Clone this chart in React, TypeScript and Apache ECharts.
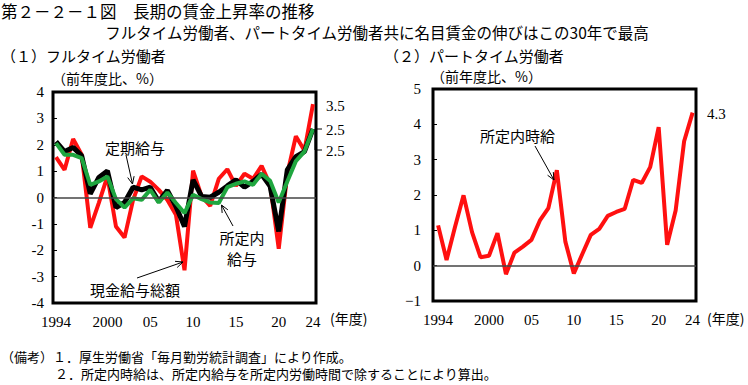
import React, { useEffect, useRef } from "react";
import * as echarts from "echarts";

const years = [1994, 1995, 1996, 1997, 1998, 1999, 2000, 2001, 2002, 2003, 2004, 2005, 2006, 2007, 2008, 2009, 2010, 2011, 2012, 2013, 2014, 2015, 2016, 2017, 2018, 2019, 2020, 2021, 2022, 2023, 2024];

// (1) Full-time workers
const totalWage = [1.53, 1.05, 2.22, 1.62, -1.15, -0.2, 0.8, -1.1, -1.52, -0.09, 0.8, 0.6, 0.29, -0.09, -0.65, -2.76, 1.02, 0.04, -0.32, 0.71, 1.07, 0.44, 0.9, 0.71, 1.2, 0.48, -1.94, 0.9, 2.32, 1.78, 3.54];
const regularWage = [2.12, 1.74, 1.9, 1.58, 0.14, 0.76, 1.01, -0.38, -0.19, 0.39, 0.29, 0.39, -0.15, 0.27, -0.34, -1.1, 0.67, 0.04, 0.01, 0.2, 0.44, 0.67, 0.39, 0.61, 0.88, 0.42, -1.29, 1.05, 1.55, 1.74, 2.6];
const scheduledWage = [2.06, 1.62, 1.62, 1.49, 0.48, 0.61, 0.8, -0.06, -0.38, -0.03, -0.09, 0.29, -0.19, 0.19, -0.21, -0.59, 0.1, -0.06, -0.19, -0.21, 0.39, 0.52, 0.61, 0.48, 0.9, 0.63, -0.19, 0.61, 1.38, 1.74, 2.6];

// (2) Part-time workers
const hourlyWage = [1.14, 0.16, 1.1, 1.99, 0.95, 0.24, 0.28, 0.92, -0.24, 0.37, 0.54, 0.73, 1.28, 1.63, 2.7, 0.68, -0.22, 0.33, 0.87, 1.04, 1.41, 1.52, 1.61, 2.43, 2.34, 2.79, 3.92, 0.59, 1.56, 3.52, 4.33];

const xTickYears = [1994, 2000, 2005, 2010, 2015, 2020, 2024];
const xTickLabels = ["1994", "2000", "05", "10", "15", "20", "24"];

const JP = "'Noto Sans CJK JP', sans-serif";
const SERIF = "'Liberation Serif', 'DejaVu Serif', serif";

function arrow(x1: number, y1: number, x2: number, y2: number) {
  const a = Math.atan2(y2 - y1, x2 - x1);
  const L = 8;
  const w = 0.42;
  const p1 = [x2 - L * Math.cos(a - w), y2 - L * Math.sin(a - w)];
  const p2 = [x2 - L * Math.cos(a + w), y2 - L * Math.sin(a + w)];
  return [
    { type: "line", z: 100, shape: { x1, y1, x2, y2 }, style: { stroke: "#000", lineWidth: 1 } },
    { type: "polyline", z: 100, shape: { points: [p1, [x2, y2], p2] }, style: { stroke: "#000", lineWidth: 1, fill: null } },
  ];
}

function txt(text: string, x: number, y: number, size: number, font: string, align = "left", weight = "normal") {
  return {
    type: "text",
    z: 100,
    x,
    y,
    style: {
      text,
      fontSize: size,
      fontFamily: font,
      fontWeight: weight,
      fill: "#000",
      textAlign: align,
      textVerticalAlign: "middle",
    },
  };
}

export default function App() {
  const ref = useRef<HTMLDivElement>(null);
  useEffect(() => {
    document.body.style.margin = "0";
    const chart = echarts.init(ref.current!, null, { renderer: "svg" });
    const toPairs = (vals: number[]) => years.map((y, i) => [y, vals[i]]);
    const xLabelFmt = (v: number) => {
      const i = xTickYears.indexOf(Math.round(v));
      return i >= 0 ? xTickLabels[i] : "";
    };
    const xAxisBase = {
      type: "value",
      axisLine: { show: false },
      axisTick: { show: false },
      splitLine: { show: false },
      axisLabel: {
        customValues: xTickYears,
        formatter: xLabelFmt,
        fontFamily: SERIF,
        fontSize: 15,
        color: "#000",
        margin: 11,
      },
    };
    const yAxisBase = {
      type: "value",
      interval: 1,
      axisLine: { show: false },
      axisTick: { show: true, inside: true, length: 4, lineStyle: { color: "#000" } },
      splitLine: { show: false },
    };
    const zeroLine = {
      silent: true,
      symbol: "none",
      label: { show: false },
      lineStyle: { color: "#444", width: 1.5, type: "solid" },
      data: [{ yAxis: 0 }],
    };
    const lineBase = { type: "line", showSymbol: false, symbol: "none" };

    chart.setOption({
      animation: false,
      grid: [
        { left: 53, top: 92, width: 263, height: 211, show: true, borderColor: "#000", borderWidth: 3, backgroundColor: "transparent" },
        { left: 433, top: 89, width: 263, height: 212, show: true, borderColor: "#000", borderWidth: 3, backgroundColor: "transparent" },
      ],
      xAxis: [
        { ...xAxisBase, gridIndex: 0, min: 1993.65, max: 2024.35 },
        { ...xAxisBase, gridIndex: 1, min: 1993.4, max: 2024.4 },
      ],
      yAxis: [
        {
          ...yAxisBase,
          gridIndex: 0,
          min: -4,
          max: 4,
          axisLabel: { fontFamily: SERIF, fontSize: 15, color: "#000", margin: 9 },
        },
        {
          ...yAxisBase,
          gridIndex: 1,
          min: -1,
          max: 5,
          axisLabel: {
            fontFamily: SERIF,
            fontSize: 15,
            color: "#000",
            margin: 12,
            formatter: (v: number) => (v < 0 ? "\u2212" + Math.abs(v) : String(v)),
          },
        },
      ],
      series: [
        { ...lineBase, name: "現金給与総額", xAxisIndex: 0, yAxisIndex: 0, data: toPairs(totalWage), lineStyle: { color: "#ff1010", width: 4 }, markLine: zeroLine, z: 2 },
        { ...lineBase, name: "定期給与", xAxisIndex: 0, yAxisIndex: 0, data: toPairs(regularWage), lineStyle: { color: "#000", width: 5 }, z: 3 },
        { ...lineBase, name: "所定内給与", xAxisIndex: 0, yAxisIndex: 0, data: toPairs(scheduledWage), lineStyle: { color: "#1fa63f", width: 4 }, z: 4 },
        { ...lineBase, name: "所定内時給", xAxisIndex: 1, yAxisIndex: 1, data: toPairs(hourlyWage), lineStyle: { color: "#ff1010", width: 4 }, markLine: zeroLine, z: 2 },
      ],
      graphic: [
        txt("第２－２－１図　長期の賃金上昇率の推移", 1, 11, 16.5, JP),
        txt("フルタイム労働者、パートタイム労働者共に名目賃金の伸びはこの30年で最高", 377, 32, 15.5, JP, "center"),
        txt("（１）フルタイム労働者", 1, 55, 15, JP),
        txt("（２）パートタイム労働者", 384, 55, 15, JP),
        txt("（前年度比、%）", 52, 78, 14, JP),
        txt("（前年度比、%）", 431, 76, 14, JP),
        txt("(年度)", 330, 318, 14, JP),
        txt("(年度)", 707, 318, 14, JP),
        txt("3.5", 326, 106, 15, SERIF),
        txt("2.5", 326, 130, 15, SERIF),
        txt("2.5", 326, 151, 15, SERIF),
        {
          type: "polyline",
          z: 100,
          shape: { points: [[322, 129], [315, 129], [315, 150], [322, 150]] },
          style: { stroke: "#000", lineWidth: 1, fill: null },
        },
        txt("4.3", 707, 114, 15, SERIF),
        txt("定期給与", 105, 147, 15, JP),
        ...arrow(126, 155, 132.5, 184),
        txt("所定内", 242, 237, 15, JP, "center"),
        txt("給与", 242, 258, 15, JP, "center"),
        ...arrow(233, 226, 221.5, 205),
        txt("現金給与総額", 90, 289, 15, JP),
        ...arrow(137, 278, 183, 262),
        txt("所定内時給", 480, 135, 15, JP),
        ...arrow(535, 146, 554, 180),
        txt("（備考）１．厚生労働省「毎月勤労統計調査」により作成。", 1, 356, 13, JP),
        txt("２．所定内時給は、所定内給与を所定内労働時間で除することにより算出。", 55, 373, 13, JP),
      ],
    });
    return () => chart.dispose();
  }, []);
  return <div ref={ref} style={{ width: 748, height: 385 }} />;
}
